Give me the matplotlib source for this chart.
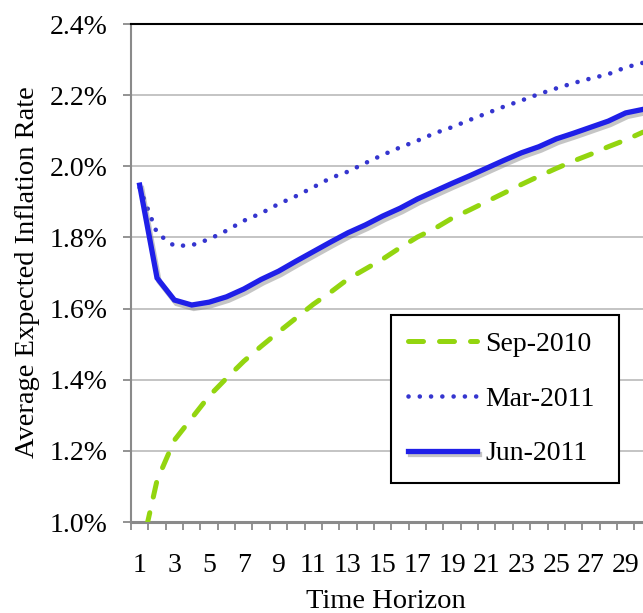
import numpy as np
import matplotlib
matplotlib.use("Agg")
import matplotlib.pyplot as plt
import matplotlib.patheffects as pe
from matplotlib.ticker import FixedLocator, NullFormatter, FuncFormatter

# values (percent)
horizon = np.arange(1, 31)
sep_2010 = [0.90, 1.117, 1.230, 1.292, 1.354, 1.404, 1.452, 1.494, 1.534, 1.573,
            1.612, 1.646, 1.683, 1.711, 1.739, 1.771, 1.801, 1.825, 1.854, 1.877,
            1.901, 1.925, 1.949, 1.972, 1.994, 2.015, 2.034, 2.055, 2.074, 2.096]
mar_2011 = [1.940, 1.812, 1.776, 1.778, 1.795, 1.819, 1.847, 1.868, 1.894, 1.916,
            1.941, 1.967, 1.985, 2.009, 2.032, 2.053, 2.072, 2.093, 2.110, 2.130,
            2.149, 2.168, 2.185, 2.203, 2.219, 2.234, 2.247, 2.259, 2.278, 2.291]
jun_2011 = [1.947, 1.686, 1.624, 1.610, 1.618, 1.633, 1.655, 1.682, 1.705, 1.733,
            1.760, 1.787, 1.813, 1.835, 1.860, 1.882, 1.908, 1.930, 1.952, 1.973,
            1.995, 2.017, 2.038, 2.055, 2.077, 2.093, 2.110, 2.127, 2.150, 2.160]
labels = ["Sep-2010", "Mar-2011", "Jun-2011"]
yticks = [1.0, 1.2, 1.4, 1.6, 1.8, 2.0, 2.2, 2.4]

plt.rcParams['font.family'] = ['Liberation Serif', 'DejaVu Serif']

W, H = 643, 613
fig = plt.figure(figsize=(W / 100, H / 100), dpi=100)
ax = fig.add_axes([131 / W, (H - 522) / H, 512 / W, 498 / H])

ax.plot(horizon, sep_2010, color="#93D50F", lw=3.6, ls=(0, (3.0, 3.2)),
        dash_capstyle="round", label=labels[0], zorder=3)
ax.plot(horizon, mar_2011, color="#3535CF", lw=3.3, ls=(0, (0.01, 2.45)),
        dash_capstyle="round", label=labels[1], zorder=3)
ax.plot(horizon, jun_2011, color="#1F1FE8", lw=3.8, solid_joinstyle="miter",
        label=labels[2], zorder=4,
        path_effects=[pe.SimpleLineShadow(offset=(1.5, -2.5), shadow_color="gray", alpha=0.45),
                      pe.Normal()])

ax.set_xlim(0.5, 30.0)
ax.set_ylim(1.0, 2.4)

# category axis: ticks between categories, labels on odd categories
ax.xaxis.set_major_locator(FixedLocator(np.arange(0.5, 31, 1.0)))
ax.xaxis.set_major_formatter(NullFormatter())
ax.xaxis.set_minor_locator(FixedLocator(np.arange(1, 31, 2)))
ax.xaxis.set_minor_formatter(FuncFormatter(lambda v, p: f"{int(v)}"))
ax.tick_params(axis="x", which="major", direction="out", length=6, width=1.3, color="#8A8A8A")
ax.tick_params(axis="x", which="minor", length=0, pad=22, labelsize=20)

ax.set_yticks(yticks)
ax.yaxis.set_major_formatter(FuncFormatter(lambda v, p: f"{v:.1f}%"))
ax.tick_params(axis="y", direction="out", length=6, width=1.3, color="#8A8A8A",
               pad=11, labelsize=20)

ax.grid(axis="y", color="#BFBFBF", lw=1.3)
ax.set_axisbelow(True)

ax.spines["right"].set_visible(False)
ax.spines["top"].set_color("black")
ax.spines["top"].set_linewidth(1.5)
ax.spines["left"].set_color("#8A8A8A")
ax.spines["left"].set_linewidth(1.5)
ax.spines["bottom"].set_color("#8A8A8A")
ax.spines["bottom"].set_linewidth(2.2)

fig.text(386 / W, 1 - 601 / H, "Time Horizon", ha="center", va="center", fontsize=20.5)
fig.text(28 / W, 1 - 272 / H, "Average Expected Inflation Rate", ha="center", va="center",
         rotation=90, fontsize=20.5)

leg = ax.legend(loc="upper left",
                bbox_to_anchor=(391 / W, 1 - 482 / H, 228 / W, 167 / H),
                bbox_transform=fig.transFigure, mode="expand",
                fontsize=20, frameon=True, fancybox=False,
                handlelength=2.5, handletextpad=0.3, labelspacing=1.05,
                borderpad=0.6, borderaxespad=0)
leg.get_frame().set_edgecolor("black")
leg.get_frame().set_linewidth(1.5)
leg.get_frame().set_alpha(1)

fig.savefig("out.png", dpi=100)
